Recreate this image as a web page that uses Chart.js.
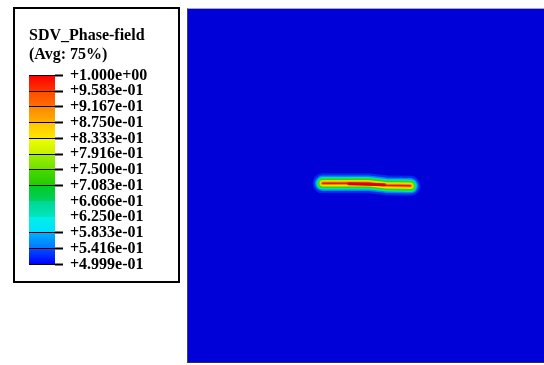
<!DOCTYPE html>
<html>
<head>
<meta charset="utf-8">
<script src="https://cdn.jsdelivr.net/npm/chart.js@4.4.1/dist/chart.umd.min.js"></script>
<style>
    body { margin: 0; background: #fff; width: 544px; height: 365px; overflow: hidden; position: relative; }
    #legendBox { position: absolute; left: 13px; top: 7px; width: 167px; height: 276px; border: 2px solid #000; box-sizing: border-box; }
    #legendBox canvas { position: absolute; left: 0; top: 0; }
    #field { position: absolute; left: 187px; top: 8px; border-left: 1px solid #444; border-top: 1px solid #aaa; border-bottom: 1px solid #333; }
</style>
</head>
<body>
<div id="legendBox"><canvas id="escala" width="163" height="272"></canvas></div>
<canvas id="field" width="357" height="355"></canvas>
<script>
// Niveles de la escala (de arriba hacia abajo)
const levels = [1.000, 0.9583, 0.9167, 0.8750, 0.8333, 0.7916, 0.7500, 0.7083, 0.6666, 0.6250, 0.5833, 0.5416, 0.4999];
const levelLabels = ['+1.000e+00', '+9.583e-01', '+9.167e-01', '+8.750e-01', '+8.333e-01', '+7.916e-01',
    '+7.500e-01', '+7.083e-01', '+6.666e-01', '+6.250e-01', '+5.833e-01', '+5.416e-01', '+4.999e-01'];
const noTickLabels = ['+6.666e-01', '+6.250e-01'];
const titleLines = ['SDV_Phase-field', '(Avg: 75%)'];

// Grieta: coordenadas normalizadas del modelo (0..1)
const crackX = [0.378, 0.51, 0.555, 0.625];
const crackY = [0.506, 0.506, 0.501, 0.499];
const coreX = [0.452, 0.552];
const coreY = [0.505, 0.502];

// colores de cada banda (arriba, abajo)
const bandColors = [
    ['#ff0000', '#ff3300'], ['#ff4a00', '#ff7000'], ['#ff8800', '#ffb000'], ['#ffc400', '#ffe600'],
    ['#f0ff00', '#c8f000'], ['#9ef000', '#70e000'], ['#48d800', '#22cc00'], ['#00cc22', '#00d060'],
    ['#00d890', '#00e6c0'], ['#00f0e8', '#00e0ff'], ['#00b0ff', '#0078ff'], ['#0050ff', '#0000ff']
];
const FIELD_BLUE = '#0000d9';
const FONT = { family: '"Liberation Serif", "Times New Roman", serif', size: 16, weight: 'bold' };

function barGradient(context) {
    const chart = context.chart;
    const area = chart.chartArea;
    if (!area) return bandColors[0][0];
    const g = chart.ctx.createLinearGradient(0, area.top, 0, area.bottom);
    const n = bandColors.length;
    bandColors.forEach((c, i) => {
        g.addColorStop(i / n, c[0]);
        g.addColorStop((i + 1) / n - 0.002, c[1]);
    });
    return g;
}

new Chart(document.getElementById('escala'), {
    type: 'bar',
    data: {
        labels: ['SDV'],
        datasets: [{
            data: [[levels[levels.length - 1], levels[0]]],
            backgroundColor: barGradient,
            borderWidth: 0,
            barPercentage: 1,
            categoryPercentage: 1
        }]
    },
    options: {
        responsive: false,
        animation: false,
        devicePixelRatio: 1,
        layout: { padding: { left: 14, right: 0, top: 2, bottom: 14 } },
        plugins: {
            legend: { display: false },
            tooltip: { enabled: false },
            title: {
                display: true,
                text: titleLines,
                align: 'start',
                color: '#000',
                font: { family: FONT.family, size: 16, weight: 'bold', lineHeight: 1.2 },
                padding: { top: 15.4, bottom: 10.6 }
            }
        },
        scales: {
            x: { display: false },
            y: {
                position: 'right',
                min: levels[levels.length - 1],
                max: levels[0],
                afterBuildTicks: function (scale) {
                    scale.ticks = levels.map(v => ({ value: v }));
                },
                afterFit: function (scale) {
                    scale.width = 123;
                },
                ticks: {
                    autoSkip: false,
                    color: '#000',
                    padding: 7,
                    font: FONT,
                    callback: function (value, index) {
                        return levelLabels[index];
                    }
                },
                grid: {
                    z: 1,
                    color: function (ctx) {
                        return noTickLabels.includes(levelLabels[ctx.index]) ? 'rgba(0,0,0,0)' : '#000';
                    },
                    lineWidth: 1,
                    tickLength: 8,
                    tickWidth: 2
                },
                border: { display: false }
            }
        }
    }
});

// fondo azul del dominio
const fondoPlugin = {
    id: 'fondo',
    beforeDraw(chart) {
        const a = chart.chartArea;
        chart.ctx.save();
        chart.ctx.fillStyle = FIELD_BLUE;
        chart.ctx.fillRect(a.left, a.top, a.right - a.left, a.bottom - a.top);
        chart.ctx.restore();
    }
};

const crackPts = crackX.map((x, i) => ({ x: x, y: crackY[i] }));
const corePts = coreX.map((x, i) => ({ x: x, y: coreY[i] }));

function capa(data, color, width) {
    return {
        data: data,
        borderColor: color,
        borderWidth: width,
        borderCapStyle: 'round',
        borderJoinStyle: 'round',
        pointRadius: 0,
        tension: 0,
        fill: false
    };
}

new Chart(document.getElementById('field'), {
    type: 'line',
    data: {
        datasets: [
            capa(corePts, '#d80000', 3),
            capa(crackPts, '#e81000', 1.5),
            capa(crackPts, '#ff8a00', 3.5),
            capa(crackPts, '#e0e800', 6.5),
            capa(crackPts, '#30d800', 9.5),
            capa(crackPts, '#00e8a0', 12.5),
            capa(crackPts, 'rgba(0,170,255,0.75)', 15.5),
            capa(crackPts, 'rgba(0,90,255,0.5)', 20)
        ]
    },
    options: {
        responsive: false,
        animation: false,
        devicePixelRatio: 1,
        layout: { padding: 0 },
        plugins: { legend: { display: false }, tooltip: { enabled: false } },
        scales: {
            x: { type: 'linear', min: 0, max: 1, display: false },
            y: { type: 'linear', min: 0, max: 1, display: false }
        }
    },
    plugins: [fondoPlugin]
});
</script>
</body>
</html>
